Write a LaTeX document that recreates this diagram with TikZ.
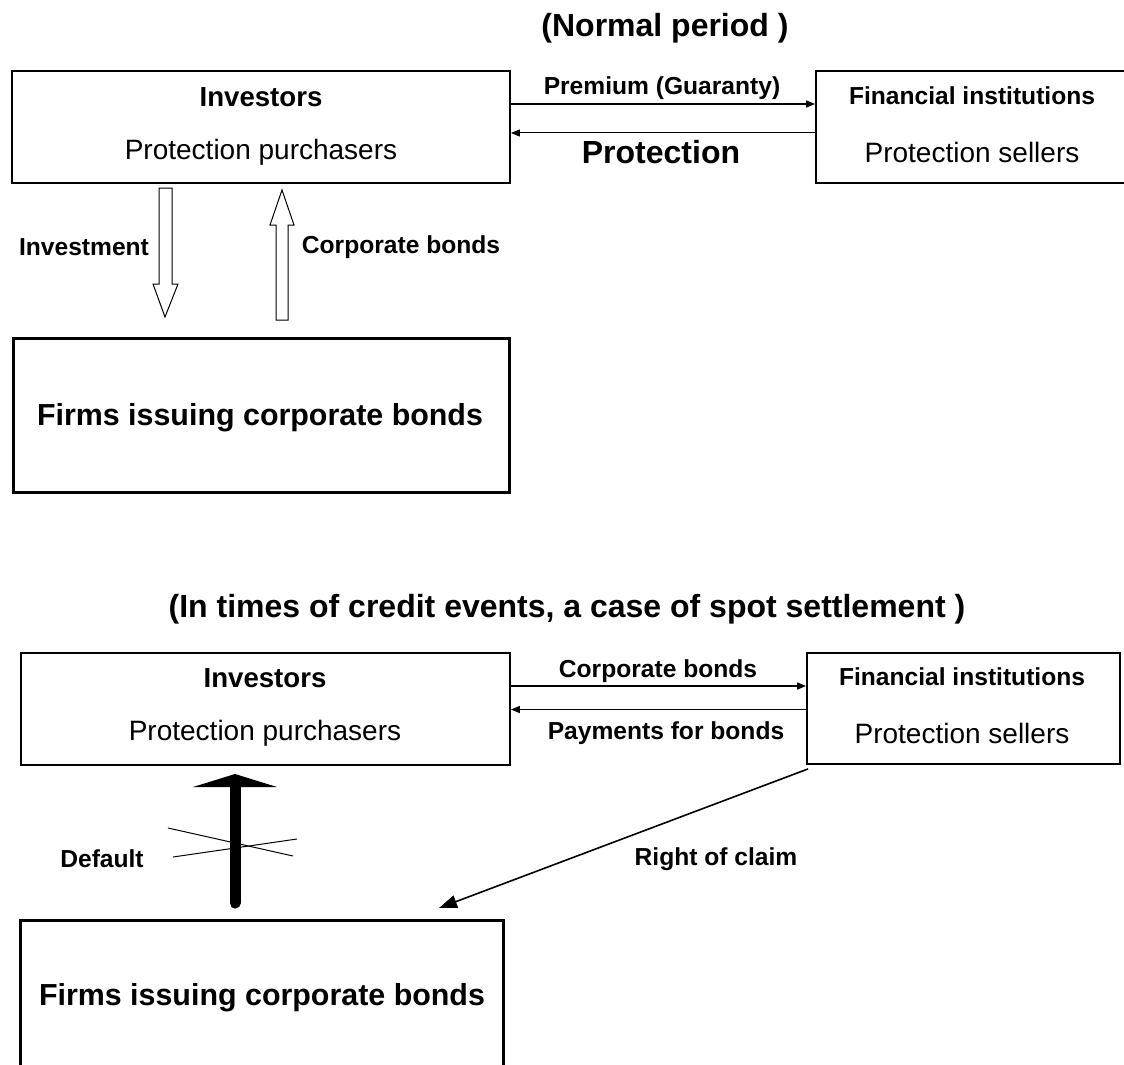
\documentclass[tikz,border=0pt]{standalone}
\usepackage{fontspec}
\setmainfont{Liberation Sans}
\usetikzlibrary{arrows.meta,calc}

\tikzset{
	box/.style={draw, line width=0.9pt, inner sep=0pt},
	firmbox/.style={draw, line width=1.5pt, inner sep=0pt},
	ttl/.style={font=\bfseries\fontsize{16}{19}\selectfont},
	head/.style={font=\bfseries\fontsize{13.8}{16}\selectfont},
	sub/.style={font=\fontsize{14}{16}\selectfont},
	lab/.style={font=\bfseries\fontsize{12.3}{14}\selectfont},
	flow/.style={-{Triangle[length=4.5pt,width=3.5pt]}, line width=0.5pt},
	hollow/.style={draw, line width=0.5pt, fill=white},
}

\begin{document}
\begin{tikzpicture}[x=0.5pt, y=-0.5pt]
	\useasboundingbox (0,0) rectangle (1124,1065);
	% normal period
	\node[ttl] (ttlA) at (665,28) {(Normal period )};
	\node[box, minimum width=249pt, minimum height=56pt] (invA) at (261,127) {};
	\node[box, minimum width=162pt, minimum height=56pt] (finA) at (978,127) {};
	\node[head] (invAh) at (261,97) {Investors};
	\node[sub] (invAs) at (261,152) {Protection purchasers};
	\node[lab] (finAh) at (972,96) {Financial institutions};
	\node[sub] (finAs) at (972,152) {Protection sellers};
	\node[firmbox, minimum width=248pt, minimum height=77pt] (firmA) at (261,415) {};
	\node[font=\bfseries\fontsize{15.2}{18}\selectfont] (firmAt) at (260,418) {Firms issuing corporate bonds};
	% premium and protection
	\draw[flow, line width=0.8pt] ([yshift=11.5pt]invA.east) -- ([yshift=11.5pt]invA.east -| finA.west);
	\draw[flow] ([yshift=-3pt]finA.west) -- ([yshift=-3pt]finA.west -| invA.east);
	\node[lab] (premA) at (662,88) {Premium (Guaranty)};
	\node[font=\bfseries\fontsize{16}{19}\selectfont] (protA) at (661,152) {Protection};
	% hollow arrows between investors and firms
	\draw[hollow] (159,188) -- (172,188) -- (172,284) -- (178,284) -- (165,317) -- (153,284) -- (159,284) -- cycle;
	\draw[hollow] (276,320) -- (288,320) -- (288,225) -- (294,225) -- (282,190) -- (270,225) -- (276,225) -- cycle;
	\node[lab] (invest) at (84,247) {Investment};
	\node[lab] (bondsA) at (401,247) {Corporate bonds};

	% credit event
	\node[ttl] (ttlB) at (567,609) {(In times of credit events, a case of spot settlement )};
	\node[box, minimum width=244.5pt, minimum height=56pt] (invB) at (265.5,709) {};
	\node[box, minimum width=156.5pt, minimum height=55.5pt] (finB) at (963.5,708.5) {};
	\node[head] (invBh) at (265,678) {Investors};
	\node[sub] (invBs) at (265,733) {Protection purchasers};
	\node[lab] (finBh) at (962,677) {Financial institutions};
	\node[sub] (finBs) at (962,733) {Protection sellers};
	\node[firmbox, minimum width=241.5pt, minimum height=80pt] (firmB) at (261.5,1000) {};
	\node[font=\bfseries\fontsize{15.2}{18}\selectfont] (firmBt) at (262,998) {Firms issuing corporate bonds};
	% bonds and payments
	\draw[flow, line width=0.8pt] ([yshift=11.5pt]invB.east) -- ([yshift=11.5pt]invB.east -| finB.west);
	\draw[flow, line width=0.8pt] ([yshift=-0.5pt]finB.west) -- ([yshift=-0.5pt]finB.west -| invB.east);
	\node[lab] (bondsB) at (658,671) {Corporate bonds};
	\node[lab] (payB) at (666,733) {Payments for bonds};
	% default (crossed out)
	\draw[line width=5.5pt, line cap=round] (235,903) -- (235,787);
	\fill (193,787) -- (277,787) -- (235,774) -- cycle;
	\draw[line width=0.5pt] (168,828) -- (293,856);
	\draw[line width=0.5pt] (173,857) -- (297,839);
	\node[lab] (dflt) at (102,859) {Default};
	% right of claim
	\coordinate (claimend) at (439,908);
	\draw[line width=0.8pt, -{Triangle[length=9pt,width=6.5pt]}] ([xshift=1pt,yshift=-2pt]finB.south west) -- (claimend);
	\node[lab] (claim) at (716,859) {Right of claim};
\end{tikzpicture}
\end{document}
